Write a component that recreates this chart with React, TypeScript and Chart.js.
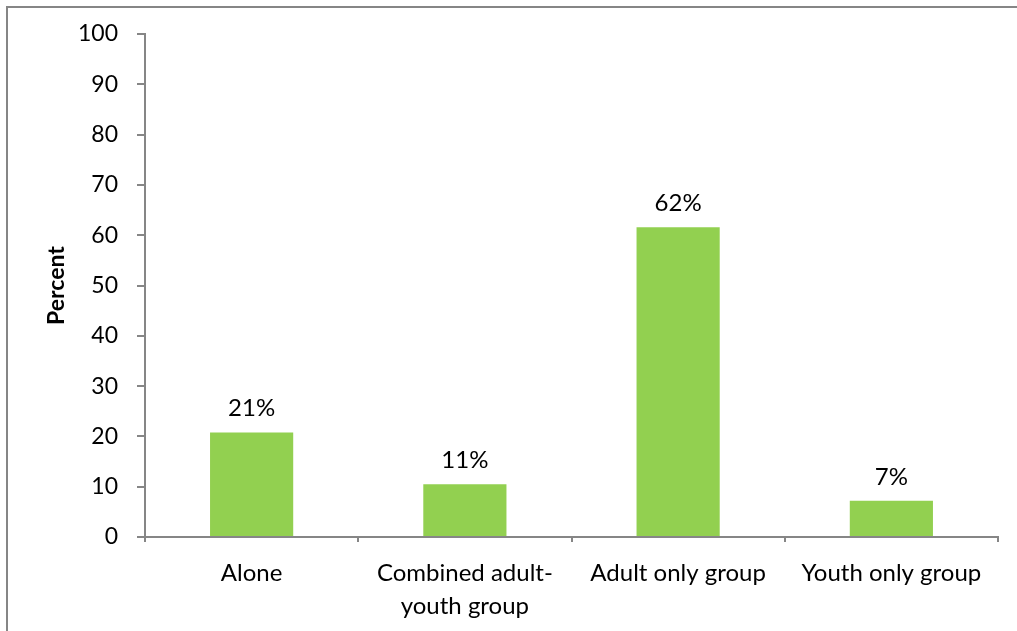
import React, { useEffect, useRef } from "react";
import { Chart, registerables } from "chart.js";

Chart.register(...registerables);

const categories: (string | string[])[] = [
  "Alone",
  ["Combined adult-", "youth group"],
  "Adult only group",
  "Youth only group",
];
const percentValues = [20.8, 10.5, 61.6, 7.2];
const valueLabels = ["21%", "11%", "62%", "7%"];
const yAxisTitle = "Percent";

const FONT = "Lato";
const AXIS_GRAY = "#868686";

const frameAndLabels = {
  id: "frameAndLabels",
  beforeDraw(chart: any) {
    const { ctx } = chart;
    ctx.save();
    ctx.fillStyle = "#ffffff";
    ctx.fillRect(0, 0, chart.width, chart.height);
    ctx.strokeStyle = AXIS_GRAY;
    ctx.lineWidth = 2;
    ctx.beginPath();
    ctx.moveTo(7, chart.height + 5);
    ctx.lineTo(7, 7);
    ctx.lineTo(chart.width + 5, 7);
    ctx.stroke();
    ctx.restore();
  },
  afterDatasetsDraw(chart: any) {
    const { ctx } = chart;
    const meta = chart.getDatasetMeta(0);
    ctx.save();
    ctx.font = `24px ${FONT}`;
    ctx.fillStyle = "#000000";
    ctx.textAlign = "center";
    ctx.textBaseline = "middle";
    meta.data.forEach((el: any, i: number) => {
      ctx.fillText(valueLabels[i], el.x, el.y - 24);
    });
    ctx.restore();
  },
};

export default function App() {
  const ref = useRef<HTMLCanvasElement | null>(null);
  useEffect(() => {
    if (!ref.current) return;
    const chart = new Chart(ref.current, {
      type: "bar",
      data: {
        labels: categories,
        datasets: [
          {
            data: percentValues,
            backgroundColor: "#92D050",
            borderWidth: 0,
            barPercentage: 0.39,
            categoryPercentage: 1.0,
          },
        ],
      },
      options: {
        responsive: false,
        animation: false,
        events: [],
        layout: { padding: { top: 34, right: 19, left: 0, bottom: 0 } },
        plugins: {
          legend: { display: false },
          tooltip: { enabled: false },
          title: { display: false },
        },
        scales: {
          x: {
            grid: {
              display: true,
              drawOnChartArea: false,
              drawTicks: true,
              tickLength: 5,
              color: AXIS_GRAY,
              lineWidth: 2,
              offset: true,
            },
            border: { display: true, color: AXIS_GRAY, width: 2 },
            ticks: {
              color: "#000000",
              font: { family: FONT, size: 24, lineHeight: "33px" },
              padding: 15,
              maxRotation: 0,
              autoSkip: false,
            },
            afterFit: (scale: any) => {
              scale.height = 94;
            },
          },
          y: {
            min: 0,
            max: 100,
            grid: {
              display: true,
              drawOnChartArea: false,
              drawTicks: true,
              tickLength: 8,
              color: AXIS_GRAY,
              lineWidth: 2,
            },
            border: { display: true, color: AXIS_GRAY, width: 2 },
            ticks: {
              stepSize: 10,
              color: "#000000",
              font: { family: FONT, size: 23 },
              padding: 19,
            },
            title: {
              display: true,
              text: yAxisTitle,
              color: "#000000",
              font: { family: FONT, size: 23, weight: "bold" },
              padding: { top: 43, bottom: 0 },
            },
            afterFit: (scale: any) => {
              scale.width = 145;
            },
          },
        },
      },
      plugins: [frameAndLabels],
    });
    return () => chart.destroy();
  }, []);
  return (
    <div style={{ position: "absolute", left: 0, top: 0, width: 1017, height: 631 }}>
      <canvas ref={ref} width={1017} height={631} />
    </div>
  );
}
